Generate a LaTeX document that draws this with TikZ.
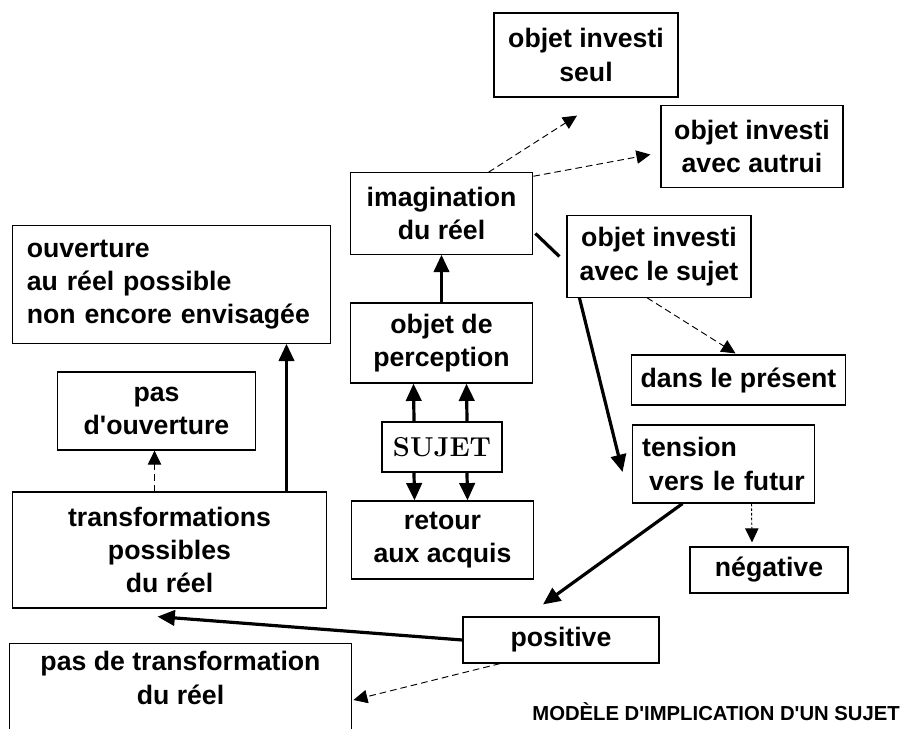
\documentclass[tikz,border=0pt]{standalone}
\usepackage{fontspec}
\newfontfamily\helv{Liberation Sans}
\usetikzlibrary{arrows.meta,calc}

\begin{document}
\begin{tikzpicture}[
    x=0.75pt, y=-0.75pt,
    every node/.style={font=\helv\bfseries\fontsize{20}{25}\selectfont},
    box/.style={draw, line width=0.9pt, align=center, inner sep=0pt},
    lbox/.style={draw, line width=0.9pt, align=left, inner xsep=7.5pt, inner ysep=0pt},
    sbox/.style={draw, line width=1.6pt, inner sep=0pt, font=\rmfamily\bfseries\fontsize{20.5}{24}\selectfont},
    arr/.style={-{Triangle[length=13pt,width=11.5pt]}, line width=2.4pt},
    darr/.style={-{Triangle[length=10.5pt,width=10pt]}, line width=0.7pt, dash pattern=on 5pt off 3pt},
    line/.style={line width=2.4pt}
  ]
  \useasboundingbox (0,0) rectangle (905,728);
  \clip (0,0) rectangle (905,728);

  % centre column
  \node[box, minimum width=137pt, minimum height=61pt] (imag) at (441.5,213.5) {imagination\\du réel};
  \node[box, minimum width=137pt, minimum height=60pt] (percep) at (441.5,343) {objet de\\perception};
  \node[sbox, minimum width=90pt, minimum height=37.5pt] (sujet) at (442,447) {SUJET};
  \node[box, minimum width=136pt, minimum height=58.5pt] (retour) at (442.5,540) {retour\\aux acquis};

  \draw[arr] (percep.north) -- (imag.south);
  \draw[arr] ($(sujet.north)+(-28,0)$) -- ($(percep.south)+(-28,0)$);
  \draw[arr] ($(sujet.north)+(25,0)$) -- ($(percep.south)+(25,0)$);
  \draw[arr] ($(sujet.south)+(-28,0)$) -- ($(retour.north)+(-28,0)$);
  \draw[arr] ($(sujet.south)+(25,0)$) -- ($(retour.north)+(25,0)$);

  % right side
  \node[box, minimum width=138pt, minimum height=63pt] (seul) at (586,55) {objet investi\\seul};
  \node[box, minimum width=136.5pt, minimum height=62pt] (autrui) at (752,146.5) {objet investi\\avec autrui};
  \node[box, minimum width=138pt, minimum height=61pt] (avec) at (659,256.5) {objet investi\\avec le sujet};
  \node[box, minimum width=160pt, minimum height=37.5pt] (present) at (738.5,380) {dans le présent};
  \node[lbox, text width=122pt, minimum height=58.5pt] (tension) at (723.5,464) {tension\\\hspace*{\fill}vers le futur};
  \node[box, minimum width=118.5pt, minimum height=34.5pt] (negat) at (769,570) {négative};
  \node[box, minimum width=147pt, minimum height=34.5pt] (posit) at (561,640) {positive};

  \draw[darr] ($(imag.north)+(47,0)$) -- ($(seul.south)+(-9,18)$);
  \draw[darr] ($(imag.north east)+(0,4)$) -- ($(autrui.west)+(-10,8)$);
  \draw[line] ($(imag.east)+(2,20)$) -- ($(avec.west)+(-7,0)$);
  \draw[arr] ($(avec.south west)+(13,0)$) -- ($(tension.west)+(-9,8)$);
  \draw[darr] ($(avec.south)+(-12,0)$) -- ($(present.north)+(-3,-1)$);
  \draw[darr, dash pattern=on 2pt off 1.5pt] ($(tension.south)+(28,0)$) -- ($(negat.north)+(-17,-4)$);
  \draw[arr] ($(tension.south)+(-41,0)$) -- ($(posit.north)+(-18,-12)$);

  % left side
  \node[lbox, inner xsep=10.5pt, text width=217pt, minimum height=88pt] (ouvert) at (171.5,284.5) {ouverture\\au réel possible\\non encore envisagée};
  \node[box, minimum width=148pt, minimum height=58.5pt] (pasouv) at (156.5,411) {pas\\d'ouverture};
  \node[box, minimum width=236pt, minimum height=87pt] (transf) at (169.5,550) {transformations\\possibles\\du réel};
  \node[box, minimum width=257pt, inner ysep=6pt, anchor=north] (pastransf) at (180.5,643) {pas de transformation\\du réel\rule[-40pt]{0pt}{0pt}};

  \draw[arr] ($(transf.north)+(117,0)$) -- ($(ouvert.south)+(115,0)$);
  \draw[darr] ($(transf.north)+(-15,0)$) -- ($(pasouv.south)+(-2,0)$);
  \draw[arr] (posit.west) -- ($(transf.south)+(-12,8)$);
  \draw[darr] ($(posit.south)+(-61,0)$) -- ($(pastransf.north east)+(1,57)$);

  \node[font=\helv\bfseries\fontsize{15.2}{18}\selectfont, anchor=east, inner sep=0pt] (titre) at (900,712) {MODÈLE D'IMPLICATION D'UN SUJET};
\end{tikzpicture}
\end{document}
